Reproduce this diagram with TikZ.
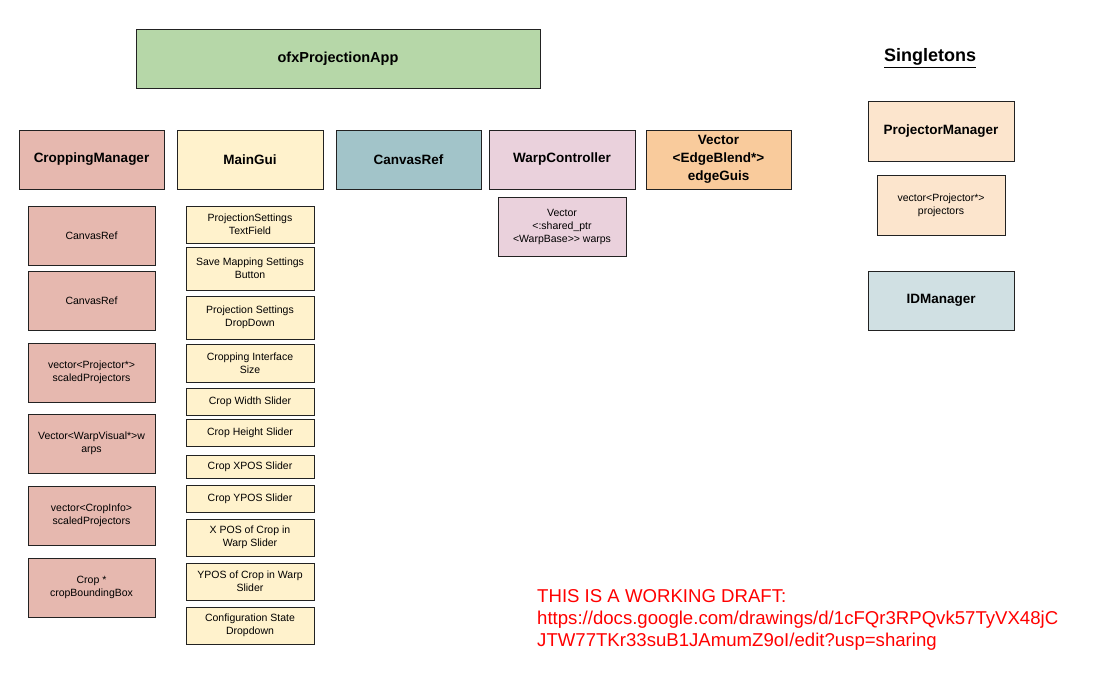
\documentclass[tikz,border=0pt]{standalone}
\usepackage{fontspec}
\setmainfont{Liberation Sans}
\definecolor{cgreen}{HTML}{B6D7A8}
\definecolor{crose}{HTML}{E6B8AF}
\definecolor{cyellow}{HTML}{FFF2CC}
\definecolor{cteal}{HTML}{A2C4C9}
\definecolor{cpink}{HTML}{EAD1DC}
\definecolor{corange}{HTML}{F9CB9C}
\definecolor{clorange}{HTML}{FCE5CD}
\definecolor{clblue}{HTML}{D0E0E3}
\definecolor{cline}{HTML}{222222}
\newcommand{\bx}[7]{\node[box, fill=#6, minimum width={(#4-#2)*1pt}, minimum height={(#5-#3)*1pt}] (#1) at ({(#2+#4)/2},{(#3+#5)/2}) {#7};}
\begin{document}
\begin{tikzpicture}[x=1pt,y=-1pt,
  box/.style={draw=cline, line width=1pt, inner sep=1pt, align=center},
  title/.style={font=\fontsize{13.5}{18}\selectfont\bfseries},
  small/.style={font=\fontsize{10.5}{13}\selectfont}]
\useasboundingbox (0,0) rectangle (1097,689);
% headers
\begin{scope}[every node/.append style={title}]
\bx{app}{136}{29}{540}{88}{cgreen}{\fontsize{14.5}{18}\selectfont ofxProjectionApp}
\bx{crop}{19}{130}{164}{189}{crose}{CroppingManager}
\bx{gui}{177}{130}{323}{189}{cyellow}{MainGui}
\bx{canvas}{336}{130}{481}{189}{cteal}{CanvasRef}
\bx{warpc}{489}{130}{635}{189}{cpink}{WarpController}
\bx{edge}{646}{130}{791}{189}{corange}{Vector\\<EdgeBlend*>\\edgeGuis}
\bx{pm}{868}{101}{1014}{161}{clorange}{ProjectorManager}
\bx{idm}{868}{271}{1014}{330}{clblue}{IDManager}
\end{scope}
\begin{scope}[every node/.append style={small}]
\bx{warps}{498}{197}{626}{256}{cpink}{Vector\\<:shared\_ptr\\<WarpBase>{}> warps}
\bx{projs}{877}{175}{1005}{235}{clorange}{vector<Projector*>\\projectors}
% cropping column
\bx{c1}{28}{206}{155}{265}{crose}{CanvasRef}
\bx{c2}{28}{271}{155}{330}{crose}{CanvasRef}
\bx{c3}{28}{343}{155}{402}{crose}{vector<Projector*>\\scaledProjectors}
\bx{c4}{28}{414}{155}{473}{crose}{Vector<WarpVisual*>w\\arps}
\bx{c5}{28}{486}{155}{545}{crose}{vector<CropInfo>\\scaledProjectors}
\bx{c6}{28}{558}{155}{617}{crose}{Crop *\\cropBoundingBox}
% gui column
\bx{g1}{186}{206}{314}{243}{cyellow}{ProjectionSettings\\TextField}
\bx{g2}{186}{247}{314}{290}{cyellow}{Save Mapping Settings\\Button}
\bx{g3}{186}{296}{314}{339}{cyellow}{Projection Settings\\DropDown}
\bx{g4}{186}{344}{314}{382}{cyellow}{Cropping Interface\\Size}
\bx{g5}{186}{388}{314}{415}{cyellow}{Crop Width Slider}
\bx{g6}{186}{419}{314}{446}{cyellow}{Crop Height Slider}
\bx{g7}{186}{455}{314}{478}{cyellow}{Crop XPOS Slider}
\bx{g8}{186}{485}{314}{512}{cyellow}{Crop YPOS Slider}
\bx{g9}{186}{519}{314}{556}{cyellow}{X POS of Crop in\\Warp Slider}
\bx{g10}{186}{563}{314}{600}{cyellow}{YPOS of Crop in Warp\\Slider}
\bx{g11}{186}{607}{314}{644}{cyellow}{Configuration State\\Dropdown}
\end{scope}
\node[font=\fontsize{18}{22}\selectfont\bfseries] (single) at (930,58) {\underline{Singletons}};
\node[anchor=north west, align=left, inner sep=0pt, text=red, font=\fontsize{18.6}{22}\selectfont] (draft) at (537,589) {THIS IS A WORKING DRAFT:\\https://docs.google.com/drawings/d/1cFQr3RPQvk57TyVX48jC\\JTW77TKr33suB1JAmumZ9oI/edit?usp=sharing};
\end{tikzpicture}
\end{document}
